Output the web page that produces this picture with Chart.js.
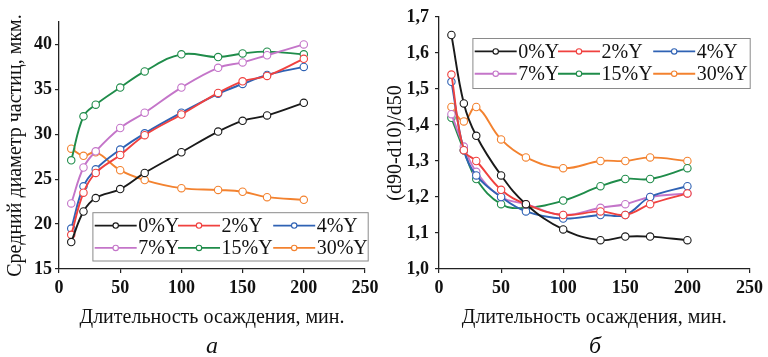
<!DOCTYPE html>
<html>
<head>
<meta charset="utf-8">
<script src="https://cdn.jsdelivr.net/npm/chart.js@4"></script>
<style>
  html, body { margin: 0; padding: 0; background: #fff; }
  #wrap { position: relative; width: 768px; height: 357px; overflow: hidden; background: #fff; }
  .pane { position: absolute; top: 0; width: 384px; height: 357px; }
  .cap { position: absolute; top: 333px; font-family: "Liberation Serif", serif; font-style: italic; font-size: 24px; line-height: 24px; color: #111; transform: translateX(-50%); }
</style>
</head>
<body>
<div id="wrap">
  <div class="pane" style="left:0"><canvas id="cA" width="384" height="357"></canvas></div>
  <div class="pane" style="left:384px"><canvas id="cB" width="384" height="357"></canvas></div>
  <div class="cap" style="left:212px">а</div>
  <div class="cap" style="left:595px">б</div>
</div>
<script>
// ---------- data ----------
const times = [10, 20, 30, 50, 70, 100, 130, 150, 170, 200];
const seriesNames = ["0%Y", "2%Y", "4%Y", "7%Y", "15%Y", "30%Y"];
const seriesColors = ["#1a1a1a", "#f0413f", "#2f62b4", "#c475c9", "#1f8c4a", "#f3822f"];

// (a) mean particle diameter, um
const dMean_0  = [18.0, 21.4, 22.9, 23.9, 25.7, 28.0, 30.3, 31.5, 32.1, 33.5];
const dMean_2  = [18.8, 23.5, 25.7, 27.7, 29.9, 32.2, 34.6, 35.9, 36.5, 38.4];
const dMean_4  = [19.5, 24.2, 26.1, 28.3, 30.1, 32.4, 34.5, 35.6, 36.6, 37.5];
const dMean_7  = [22.3, 26.3, 28.1, 30.7, 32.4, 35.2, 37.4, 38.0, 38.8, 40.0];
const dMean_15 = [27.1, 32.0, 33.3, 35.2, 37.0, 38.9, 38.6, 39.0, 39.2, 38.9];
const dMean_30 = [28.4, 27.6, 28.0, 26.0, 24.9, 24.0, 23.8, 23.6, 23.0, 22.7];

// (б) span (d90-d10)/d50
const span_0  = [1.65, 1.46, 1.37, 1.26, 1.18, 1.11, 1.08, 1.09, 1.09, 1.08];
const span_2  = [1.54, 1.33, 1.30, 1.22, 1.18, 1.15, 1.16, 1.15, 1.18, 1.21];
const span_4  = [1.52, 1.33, 1.26, 1.20, 1.16, 1.14, 1.15, 1.15, 1.20, 1.23];
const span_7  = [1.43, 1.34, 1.27, 1.20, 1.18, 1.15, 1.17, 1.18, 1.20, 1.21];
const span_15 = [1.42, 1.33, 1.25, 1.18, 1.17, 1.19, 1.23, 1.25, 1.25, 1.28];
const span_30 = [1.45, 1.41, 1.45, 1.36, 1.31, 1.28, 1.30, 1.30, 1.31, 1.30];

const xTicks = [0, 50, 100, 150, 200, 250];
const yTicksA = [15, 20, 25, 30, 35, 40];
const yTicksB = [1.0, 1.1, 1.2, 1.3, 1.4, 1.5, 1.6, 1.7];

const xTitle = "Длительность осаждения, мин.";
const yTitleA = "Средний диаметр частиц, мкм.";
const yTitleB = "(d90-d10)/d50";

// ---------- helpers ----------
const SERIF = "'Liberation Serif', 'Times New Roman', serif";

function makeDatasets(arrs) {
  return arrs.map((arr, i) => ({
    label: seriesNames[i],
    data: arr.map((v, k) => ({ x: times[k], y: v })),
    borderColor: seriesColors[i],
    backgroundColor: "#ffffff",
    pointBackgroundColor: "#ffffff",
    pointBorderColor: seriesColors[i],
    pointBorderWidth: 1.1,
    pointRadius: 3.7,
    borderWidth: 1.9,
    tension: 0.4,
    fill: false
  }));
}

const boxLegend = {
  id: "boxLegend",
  afterDatasetsDraw(chart, args, opts) {
    const ctx = chart.ctx;
    const ca = chart.chartArea;
    const bx = ca.left + opts.dx, by = ca.top + opts.dy;
    ctx.save();
    ctx.fillStyle = "#ffffff";
    ctx.fillRect(bx, by, opts.w, opts.h);
    ctx.strokeStyle = "#8a8a8a";
    ctx.lineWidth = 1;
    ctx.strokeRect(bx + 0.5, by + 0.5, opts.w, opts.h);
    const cols = [2.3, 85.6, 180.8];
    const rows = [13.4, 35.7];
    ctx.font = "20px " + SERIF;
    ctx.textBaseline = "middle";
    ctx.textAlign = "left";
    seriesNames.forEach((name, i) => {
      const cx = bx + cols[i % 3];
      const cy = by + rows[Math.floor(i / 3)];
      const L = 42;
      ctx.strokeStyle = seriesColors[i];
      ctx.lineWidth = 1.9;
      ctx.beginPath();
      ctx.moveTo(cx, cy);
      ctx.lineTo(cx + L, cy);
      ctx.stroke();
      ctx.beginPath();
      ctx.fillStyle = "#fff";
      ctx.lineWidth = 1.1;
      ctx.arc(cx + L / 2, cy, 2.7, 0, Math.PI * 2);
      ctx.fill();
      ctx.stroke();
      ctx.fillStyle = "#111";
      ctx.fillText(name, cx + L + 1.5, cy + 1);
    });
    ctx.restore();
  }
};

function makeChart(id, arrs, cfg) {
  return new Chart(document.getElementById(id), {
    type: "line",
    data: { datasets: makeDatasets(arrs) },
    options: {
      responsive: false,
      animation: false,
      events: [],
      layout: { padding: cfg.padding },
      plugins: {
        legend: { display: false },
        tooltip: { enabled: false },
        boxLegend: cfg.legend
      },
      scales: {
        x: {
          type: "linear",
          min: 0, max: 250,
          afterBuildTicks(s) { s.ticks = xTicks.map(v => ({ value: v })); },
          afterFit(s) { s.height = 61; },
          border: { color: "#222", width: 1.3 },
          grid: { display: true, drawOnChartArea: false, drawTicks: true, tickLength: 4, color: "#222", lineWidth: 1.2 },
          ticks: { color: "#111", padding: 5, maxRotation: 0, font: { family: SERIF, size: 18, weight: "bold" } },
          title: { display: true, text: xTitle, color: "#111", padding: { top: 0, bottom: 0 }, font: { family: SERIF, size: 20, lineHeight: 1.2 } }
        },
        y: {
          type: "linear",
          min: cfg.ymin, max: cfg.ymax,
          afterBuildTicks(s) { s.ticks = cfg.yTicks.map(v => ({ value: v })); },
          afterFit(s) { s.width = cfg.yWidth; },
          border: { color: "#222", width: 1.3 },
          grid: { display: true, drawOnChartArea: false, drawTicks: true, tickLength: 4, color: "#222", lineWidth: 1.2 },
          ticks: { color: "#111", padding: cfg.tickPad, font: { family: SERIF, size: 18, weight: "bold" }, callback: cfg.fmt },
          title: { display: true, text: cfg.yTitle, color: "#111", padding: { top: cfg.titlePad, bottom: 0 }, font: { family: SERIF, size: 20, lineHeight: 1.2 } }
        }
      }
    },
    plugins: [boxLegend]
  });
}

makeChart("cA", [dMean_0, dMean_2, dMean_4, dMean_7, dMean_15, dMean_30], {
  padding: { top: 22, right: 19, bottom: 27, left: 0 },
  ymin: 15, ymax: 42.5, yTicks: yTicksA, yWidth: 59, tickPad: 3, titlePad: 4,
  yTitle: yTitleA,
  fmt: v => String(v),
  legend: { dx: 33.4, dy: 190.2, w: 275.3, h: 48.3 }
});

makeChart("cB", [span_0, span_2, span_4, span_7, span_15, span_30], {
  padding: { top: 17, right: 16, bottom: 27, left: 0 },
  ymin: 1.0, ymax: 1.7, yTicks: yTicksB, yWidth: 55, tickPad: 6, titlePad: 0,
  yTitle: yTitleB,
  fmt: v => Number(v).toFixed(1).replace(".", ","),
  legend: { dx: 33.4, dy: 21, w: 277.3, h: 50 }
});
</script>
</body>
</html>
